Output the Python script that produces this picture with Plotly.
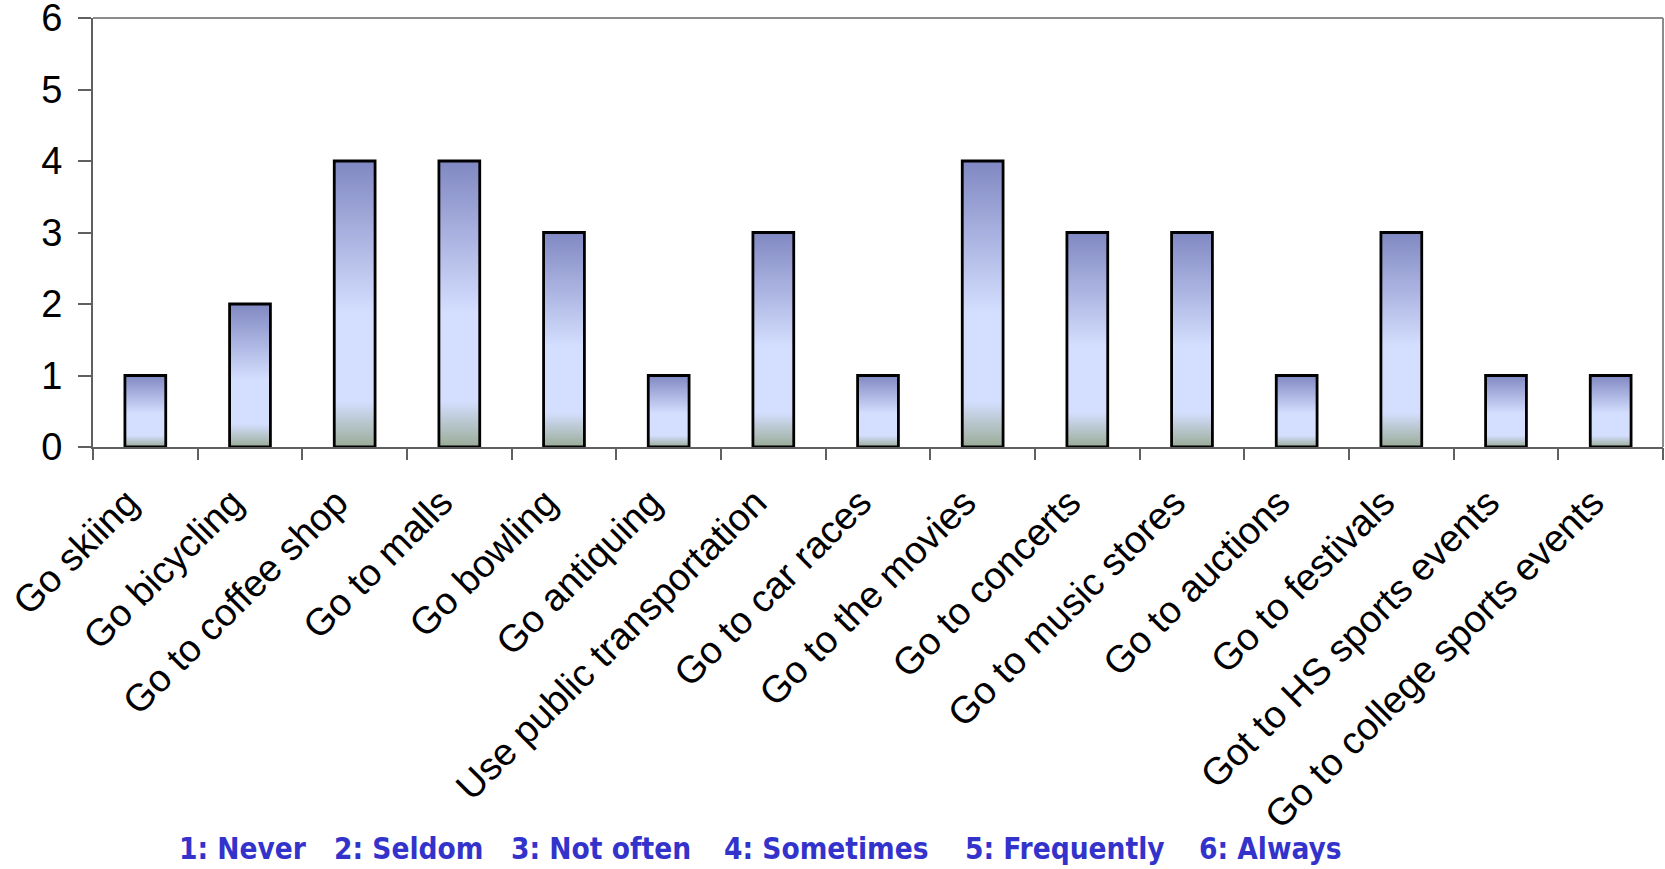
import plotly.graph_objects as go

categories = ["Go skiing", "Go bicycling", "Go to coffee shop", "Go to malls", "Go bowling",
              "Go antiquing", "Use public transportation", "Go to car races", "Go to the movies",
              "Go to concerts", "Go to music stores", "Go to auctions", "Go to festivals",
              "Got to HS sports events", "Go to college sports events"]
values = [1, 2, 4, 4, 3, 1, 3, 1, 4, 3, 3, 1, 3, 1, 1]
y_ticks = [0, 1, 2, 3, 4, 5, 6]
scale_labels = ["1: Never", "2: Seldom", "3: Not often", "4: Sometimes", "5: Frequently", "6: Always"]
scale_label_px = [177, 332, 509, 722, 963, 1197]

W, H = 1665, 869
L, R, T, B = 93, 2, 18, 422
plot_w = W - L - R
plot_h = H - T - B
bar_w = 0.39
label_shift = 0.17

fig = go.Figure()
grad = [[0, "#9aac98"], [0.16, "#d4defe"], [0.47, "#d4defe"], [1, "#8088c2"]]
for i, v in enumerate(values):
    x0, x1 = i - bar_w / 2, i + bar_w / 2
    fig.add_trace(go.Scatter(
        x=[x0, x0, x1, x1, x0], y=[0, v, v, 0, 0],
        mode="lines", fill="toself",
        fillgradient=dict(type="vertical", colorscale=grad),
        line=dict(color="black", width=2.8),
        hoverinfo="skip", showlegend=False))

n = len(categories)
fig.update_layout(
    width=W, height=H,
    margin=dict(l=L, r=R, t=T, b=B, autoexpand=False),
    paper_bgcolor="white", plot_bgcolor="white",
    font=dict(family="Liberation Sans, Arial, sans-serif", color="black"),
    xaxis=dict(range=[-0.5, n - 0.5], tickvals=[k - label_shift for k in range(n)], ticktext=categories,
               tickangle=-45, ticks="", showgrid=False, zeroline=False,
               showline=True, linecolor="#606060", linewidth=2,
               tickfont=dict(size=38), ticklabelstandoff=16, automargin=False,
               ticklabeloverflow="allow", fixedrange=True),
    xaxis2=dict(range=[-0.5, n - 0.5], overlaying="x", side="bottom",
                tickvals=[k - 0.5 for k in range(n + 1)], showticklabels=False,
                ticks="outside", ticklen=12, tickcolor="#606060", tickwidth=1.5,
                showgrid=False, zeroline=False, showline=False, automargin=False),
    yaxis=dict(range=[0, 6], tickvals=y_ticks, ticks="outside", ticklen=13,
               tickcolor="#606060", tickwidth=1.5, showgrid=False, zeroline=False,
               showline=True, linecolor="#606060", linewidth=2,
               tickfont=dict(size=38), ticklabelstandoff=8, automargin=False,
               ticklabeloverflow="allow"),
)
fig.add_trace(go.Scatter(x=[0], y=[0], xaxis="x2", mode="markers",
                         marker=dict(opacity=0), hoverinfo="skip", showlegend=False))

fig.add_shape(type="line", xref="paper", yref="paper", x0=0, x1=1, y0=1, y1=1,
              line=dict(color="#8c8c8c", width=2))
fig.add_shape(type="line", xref="paper", yref="paper", x0=1, x1=1, y0=0, y1=1,
              line=dict(color="#8c8c8c", width=2))

for lab, px in zip(scale_labels, scale_label_px):
    fig.add_annotation(text=lab, xref="paper", yref="paper",
                       x=(px - L) / plot_w, y=-(849 - (H - B)) / plot_h,
                       xanchor="left", yanchor="middle", showarrow=False,
                       font=dict(family="DejaVu Sans Condensed, DejaVu Sans, sans-serif",
                                 size=29.5, color="#3333cc", weight="bold"))

fig.write_html("out.html", config={"displayModeBar": False},
               post_script="document.body.style.margin='0';document.body.style.overflow='hidden';")
